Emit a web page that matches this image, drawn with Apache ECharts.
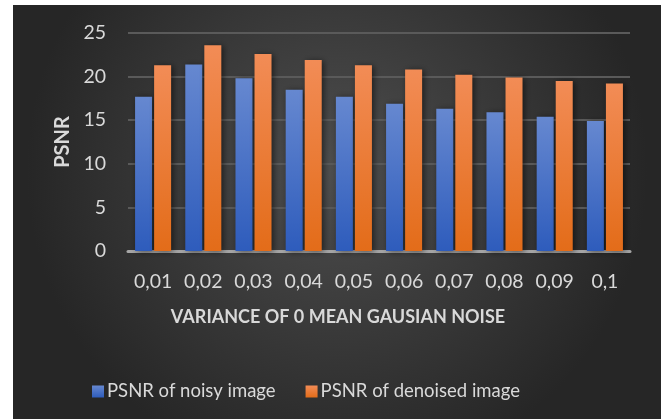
<!DOCTYPE html>
<html>
<head>
<meta charset="utf-8">
<script src="https://cdn.jsdelivr.net/npm/echarts@6/dist/echarts.min.js"></script>
<style>
    html, body {
        margin: 0;
        padding: 0;
        background: #ffffff;
    }
    .psnr-chart {
        position: absolute;
        left: 13px;
        top: 5px;
        width: 648px;
        height: 414px;
    }
</style>
</head>
<body>
<div class="psnr-chart" id="chart"></div>
<script>
    var categories = ['0,01', '0,02', '0,03', '0,04', '0,05', '0,06', '0,07', '0,08', '0,09', '0,1'];
    var noisy = [17.7, 21.4, 19.8, 18.5, 17.7, 16.9, 16.3, 15.9, 15.4, 14.9];
    var denoised = [21.3, 23.6, 22.6, 21.9, 21.3, 20.8, 20.2, 19.9, 19.5, 19.2];
    var yTicks = [0, 5, 10, 15, 20, 25];

    var font = 'Lato, "Open Sans", sans-serif';
    var textColor = '#d9d9d9';

    function grad(top, bottom) {
        return new echarts.graphic.LinearGradient(0, 0, 0, 1, [
            {offset: 0, color: top},
            {offset: 1, color: bottom}
        ]);
    }

    var option = {
        backgroundColor: new echarts.graphic.RadialGradient(0.5, 0.4, 0.75, [
            {offset: 0, color: '#4e4e4e'},
            {offset: 1, color: '#262626'}
        ]),
        textStyle: {
            fontFamily: font
        },
        grid: {
            left: 115,
            right: 31,
            top: 28,
            bottom: 168
        },
        legend: {
            left: 74,
            top: 372,
            itemWidth: 12,
            itemHeight: 12,
            itemGap: 30,
            icon: 'rect',
            textStyle: {
                color: textColor,
                fontSize: 18.5,
                fontFamily: font,
                padding: [0, 0, 0, -2]
            },
            data: ['PSNR of noisy image', 'PSNR of denoised image']
        },
        xAxis: {
            type: 'category',
            data: categories,
            name: 'VARIANCE OF 0 MEAN GAUSIAN NOISE',
            nameLocation: 'middle',
            nameGap: 57,
            nameTextStyle: {
                color: textColor,
                fontSize: 18,
                fontWeight: 'bold',
                fontFamily: font,
                padding: [0, 82, 0, 0]
            },
            axisLine: {
                lineStyle: {color: '#a6a6a6', width: 3}
            },
            axisTick: {show: false},
            axisLabel: {
                color: textColor,
                fontSize: 19.5,
                margin: 21
            }
        },
        yAxis: {
            type: 'value',
            min: 0,
            max: 25,
            interval: 5,
            name: 'PSNR',
            nameLocation: 'middle',
            nameGap: 44,
            nameTextStyle: {
                color: textColor,
                fontSize: 20,
                fontWeight: 'bold',
                fontFamily: font
            },
            axisLabel: {
                color: textColor,
                fontSize: 19.5,
                margin: 22,
                formatter: function (v) {
                    return yTicks.indexOf(v) >= 0 ? String(v) : '';
                }
            },
            splitLine: {
                lineStyle: {color: '#5a5a5a', width: 2}
            }
        },
        series: [
            {
                name: 'PSNR of noisy image',
                type: 'bar',
                barWidth: 17,
                barGap: '12%',
                data: noisy,
                itemStyle: {
                    color: grad('#6688d0', '#2e5cbc'),
                    shadowBlur: 6,
                    shadowColor: 'rgba(0,0,0,0.55)',
                    shadowOffsetX: 2,
                    shadowOffsetY: 1
                }
            },
            {
                name: 'PSNR of denoised image',
                type: 'bar',
                barWidth: 17,
                barGap: '12%',
                data: denoised,
                itemStyle: {
                    color: grad('#f28c56', '#e36c19'),
                    shadowBlur: 6,
                    shadowColor: 'rgba(0,0,0,0.55)',
                    shadowOffsetX: 2,
                    shadowOffsetY: 1
                }
            }
        ]
    };

    echarts.init(document.getElementById('chart')).setOption(option);
</script>
</body>
</html>
